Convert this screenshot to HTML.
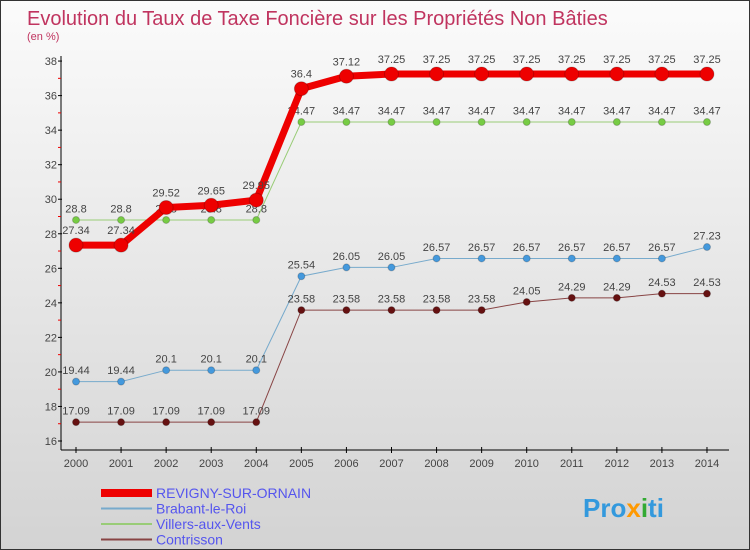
<!DOCTYPE html>
<html><head><meta charset="utf-8"><style>
body{margin:0}
#c{width:748px;height:548px;border:1px solid #333;background:linear-gradient(#fbfbfb,#d3d3d3);position:relative;font-family:"Liberation Sans",sans-serif;overflow:hidden}
</style></head><body>
<div id="c">
<svg id="s" width="748" height="548" xmlns="http://www.w3.org/2000/svg">
<text x="26" y="24" font-size="20" fill="#c0345f">Evolution du Taux de Taxe Foncière sur les Propriétés Non Bâties</text>
<text x="26" y="39" font-size="11" fill="#c0345f">(en %)</text>
<g id="axes"></g><g id="series"></g><g id="legend"></g>
<text x="582" y="516" font-size="26" font-weight="bold" fill="#3399dd">Pro<tspan fill="#ff9900">x</tspan><tspan fill="#33aa33">i</tspan>ti</text>
</svg></div>
<script>
const years=[2000,2001,2002,2003,2004,2005,2006,2007,2008,2009,2010,2011,2012,2013,2014];
const yTicks=[16,18,20,22,24,26,28,30,32,34,36,38];
const seriesNames=["REVIGNY-SUR-ORNAIN","Brabant-le-Roi","Villers-aux-Vents","Contrisson"];
const revigny=[27.34,27.34,29.52,29.65,29.95,36.4,37.12,37.25,37.25,37.25,37.25,37.25,37.25,37.25,37.25];
const brabant=[19.44,19.44,20.1,20.1,20.1,25.54,26.05,26.05,26.57,26.57,26.57,26.57,26.57,26.57,27.23];
const villers=[28.8,28.8,28.8,28.8,28.8,34.47,34.47,34.47,34.47,34.47,34.47,34.47,34.47,34.47,34.47];
const contrisson=[17.09,17.09,17.09,17.09,17.09,23.58,23.58,23.58,23.58,23.58,24.05,24.29,24.29,24.53,24.53];
const NS="http://www.w3.org/2000/svg";
const X=i=>75+i*45.07, Y=v=>440-(v-16)*17.27;
function mk(t,a,p){const e=document.createElementNS(NS,t);for(const k in a)e.setAttribute(k,a[k]);p.appendChild(e);return e;}
const ax=document.getElementById('axes');
let l=mk('line',{x1:60,y1:55,x2:60,y2:449,stroke:'#000'},ax);


l=mk('line',{x1:60,y1:449,x2:728,y2:449,stroke:'#000'},ax);


const yMax=yTicks[yTicks.length-1];
yTicks.forEach(v=>{mk('line',{x1:57,x2:61,y1:Y(v),y2:Y(v),stroke:'#000'},ax);
 if(v<yMax)mk('line',{x1:57,x2:60,y1:Y(v+1),y2:Y(v+1),stroke:'#e00'},ax);
 const t=mk('text',{x:56,y:Y(v)+4,'text-anchor':'end','font-size':11,fill:'#444'},ax);t.textContent=v;
 
 });
years.forEach((y,i)=>{mk('line',{x1:X(i),x2:X(i),y1:446,y2:452,stroke:'#000'},ax);
 const t=mk('text',{x:X(i),y:466,'text-anchor':'middle','font-size':11,fill:'#444'},ax);t.textContent=y;
 
 });
const sg=document.getElementById('series');
const defs=[[villers,'#99cc77','#77cc44',1,3.5,'villers'],[brabant,'#77aacc','#4499dd',1,3.5,'brabant'],[contrisson,'#884444','#661111',1,3.5,'contrisson'],[revigny,'#ee0000','#ee0000',7,7,'revigny']];
defs.forEach(([d,lc,pc,w,r,n])=>{
 const p=mk('polyline',{points:d.map((v,i)=>X(i)+','+Y(v)).join(' '),fill:'none',stroke:lc,'stroke-width':w},sg);
 
 
 d.forEach((v,i)=>{const c=mk('circle',{cx:X(i),cy:Y(v),r:r,fill:pc,stroke:'#0003'},sg);
  
  
  const t=mk('text',{x:X(i),y:Y(v)-r-4,'text-anchor':'middle','font-size':11,fill:'#444'},sg);t.textContent=v;
  
  });
});
const lg=document.getElementById('legend');
const lcol=['#ee0000','#77aacc','#99cc77','#884444'],lw=[8,2,2,2];
seriesNames.forEach((n,i)=>{const y=492+i*15.5;
 const e=mk('line',{x1:100,x2:151,y1:y,y2:y,stroke:lcol[i],'stroke-width':lw[i]},lg);
 
 
 const t=mk('text',{x:155,y:y+5,'font-size':14,fill:'#5555ee'},lg);t.textContent=n;
 
 });
</script>
</body></html>
